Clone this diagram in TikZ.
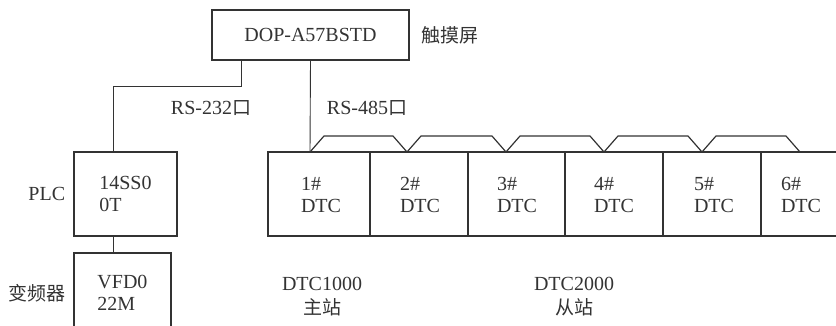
\documentclass[tikz,border=0pt]{standalone}
\usepackage{fontspec}
\setmainfont{Liberation Serif}
\newfontfamily\cjk{Noto Sans CJK SC}
\usetikzlibrary{positioning}

\begin{document}
\begin{tikzpicture}[x=1pt, y=-1pt,
    box/.style={draw=black!80, line width=1.3pt, align=left, inner sep=0pt, font=\fontsize{20}{22}\selectfont, text=black!80},
    lbl/.style={align=center, inner sep=0pt, font=\fontsize{20}{24}\selectfont, text=black!80},
    wire/.style={draw=black!80, line width=0.9pt}]
    \useasboundingbox (0,0) rectangle (836,325);
    \clip (0,0) rectangle (836,325);

    % Draw nodes
    \node[box, minimum width=197pt, minimum height=50pt] (top) at (310.5,35) {DOP-A57BSTD};
    \node[box, minimum width=103pt, minimum height=84pt] (plc) at (125.5,194) {14SS0\\0T};
    \node[box, minimum width=97pt, minimum height=80pt] (vfd) at (122.5,293) {VFD0\\22M};
    \foreach \i/\xl/\xr/\xt/\xc in {1/268/370/310/321, 2/370/468/407/420, 3/468/565/506/517, 4/565/663/604/614, 5/663/761/702/714, 6/761/860/800/801} {
        \node[box, minimum width=\xr-\xl, minimum height=84pt] (d\i) at ({(\xl+\xr)/2},194) {};
        \node[lbl, align=left, font=\fontsize{20}{22}\selectfont] (n\i) at (\xc,195) {\i\#\\DTC};
        \coordinate (t\i) at (\xt,152);
    }

    % Draw connections
    \draw[wire] (top.south) -- (t1);
    \draw[wire] ([xshift=-69.5pt]top.south) -- ++(0,26) -| ([xshift=-12.5pt]plc.north);
    \draw[wire] ([xshift=-12.5pt]plc.south) -- ++(0,17);
    \draw[wire, line width=1.2pt, line join=round] (t1)
        \foreach \j in {2,...,6} { -- ++(14,-16) -- ([shift={(-14,-16)}]t\j) -- (t\j) };

    % Labels
    \node[lbl, right=12pt of top, font=\cjk\fontsize{19}{22}\selectfont] (touch) {触摸屏};
    \node[lbl, left=8pt of plc] (plcname) {PLC};
    \node[lbl, left=8pt of vfd, font=\cjk\fontsize{19}{22}\selectfont] (vfdname) {变频器};
    \node[lbl] (rs232) at (211,108) {RS-232{\cjk\fontsize{19}{22}\selectfont 口}};
    \node[lbl] (rs485) at (367,108) {RS-485{\cjk\fontsize{19}{22}\selectfont 口}};
    \node[lbl] (master) at (322,297) {DTC1000\\{\cjk\fontsize{19}{24}\selectfont 主站}};
    \node[lbl] (slave) at (574,297) {DTC2000\\{\cjk\fontsize{19}{24}\selectfont 从站}};
\end{tikzpicture}
\end{document}
